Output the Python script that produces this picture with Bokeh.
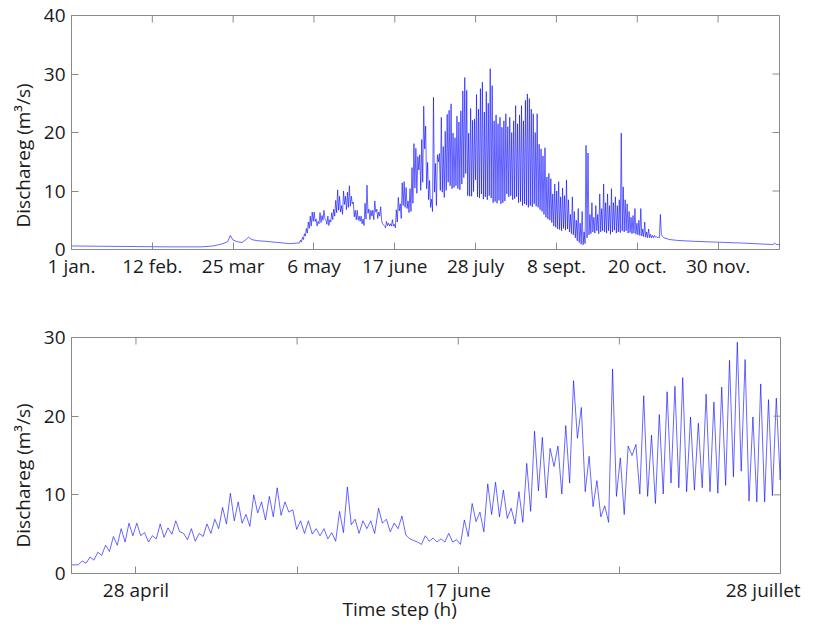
import numpy as np
from bokeh.plotting import figure
from bokeh.layouts import column
from bokeh.models import FixedTicker, Range1d, Title
from bokeh.embed import file_html
from bokeh.resources import INLINE

# ---------------- data (hours since 1 January, discharge in m3/s) ----------------
# calm winter / early spring period
head_hours = [0, 400, 800, 1200, 1600, 1750, 1850, 1930, 1965, 2000, 2060, 2110,
              2160, 2190, 2230, 2300, 2400, 2550, 2700, 2790]
head_vals = [0.6, 0.55, 0.5, 0.45, 0.45, 0.6, 0.9, 1.3, 2.4, 1.6, 1.3, 1.2,
             1.7, 2.1, 1.7, 1.5, 1.4, 1.2, 1.0, 1.1]

# melt season: daily peak and trough (day 0 = 27 april)
daily_peak = [
    1.1, 1.6, 2.1, 2.7, 3.6, 4.7, 5.7, 6.4, 6.4, 5.2,
    4.8, 6.3, 5.8, 6.7, 5.1, 5.7, 5.1, 6.3, 6.9, 8.4,
    10.2, 9.1, 7.5, 10.0, 9.1, 9.8, 10.9, 9.1, 8.1, 6.7,
    6.7, 5.7, 5.7, 5.2, 7.9, 11.0, 6.9, 6.7, 6.7, 8.3,
    6.9, 6.4, 7.3, 4.4, 4.0, 4.8, 4.5, 4.4, 5.1, 4.3,
    6.8, 8.9, 7.8, 11.4, 11.6, 10.6, 8.3, 10.4, 14.0, 18.1,
    17.3, 15.9, 16.2, 18.8, 24.5, 21.1, 14.9, 11.8, 8.6, 26.0,
    14.7, 16.2, 16.4, 22.6, 17.6, 20.2, 23.1, 23.8, 24.9, 19.9,
    19.1, 22.8, 21.8, 23.7, 27.1, 29.4, 27.2, 19.9, 24.1, 22.1,
    22.3, 26.5, 24.0, 27.5, 28.6, 23.5, 27.0, 25.0, 30.9, 28.0,
    22.0, 23.0, 21.5, 22.6, 20.9, 22.0, 23.2, 21.0, 22.6, 20.0,
    22.0, 24.6, 21.5, 23.0, 24.6, 22.0, 25.5, 26.6, 25.8, 24.0,
    23.2, 20.0, 23.2, 18.0, 17.2, 16.0, 17.4, 12.4, 13.0, 12.1,
    9.5, 11.2, 10.0, 11.6, 9.0, 10.5, 9.2, 11.9, 8.5, 6.0,
    9.0, 6.5, 5.0, 7.0, 4.5, 6.5, 3.0, 17.8, 16.5, 6.0,
    8.0, 5.5, 7.5, 6.0, 9.5, 7.0, 11.2, 8.0, 9.5, 7.5,
    10.4, 8.0, 9.0, 7.5, 8.5, 19.9, 10.7, 8.5, 7.8, 6.5,
    5.5, 5.8, 7.0, 4.5, 5.0, 7.0, 3.5, 4.7, 3.0, 3.5,
    2.6, 2.4, 2.4, 2.2, 2.1, 6.0,
]
daily_trough = [
    1.1, 1.3, 1.7, 2.3, 2.8, 3.6, 4.0, 4.8, 4.8, 4.0,
    4.4, 4.6, 5.0, 5.3, 4.3, 4.1, 4.7, 5.1, 5.7, 6.3,
    6.7, 6.4, 6.0, 7.7, 6.8, 7.2, 7.4, 7.8, 5.6, 5.1,
    5.0, 4.8, 4.4, 4.1, 5.2, 6.2, 5.1, 5.7, 5.1, 6.4,
    5.3, 5.7, 4.9, 4.2, 3.7, 4.1, 4.0, 4.0, 4.0, 3.7,
    4.7, 6.6, 5.3, 7.5, 7.2, 7.0, 6.3, 6.5, 7.9, 10.5,
    9.6, 13.6, 10.1, 11.5, 17.2, 10.4, 8.5, 7.2, 6.5, 9.8,
    7.5, 15.0, 10.1, 9.8, 8.9, 10.1, 11.5, 10.9, 10.4, 10.6,
    10.9, 10.4, 10.2, 11.2, 12.3, 13.0, 9.2, 9.1, 9.1, 9.9,
    11.9, 9.0, 8.8, 9.5, 8.6, 9.0, 8.5, 9.2, 8.8, 8.0,
    8.2, 7.9, 8.4, 7.8, 8.0, 8.3, 9.5, 9.0, 9.2, 8.5,
    8.7, 9.0, 8.0, 8.2, 7.5, 7.8, 7.6, 7.2, 7.5, 7.3,
    7.8, 7.4, 7.2, 6.8, 6.5, 6.0, 5.5, 5.2, 5.0, 4.6,
    4.0, 3.8, 3.5, 3.4, 3.2, 3.6, 3.3, 3.5, 3.0, 2.7,
    2.5, 2.0, 1.5, 1.2, 0.9, 0.8, 1.0, 2.0, 2.5, 2.7,
    3.0, 2.8, 3.2, 2.7, 3.0, 3.2, 3.0, 2.8, 3.2, 2.6,
    3.0, 3.3, 2.8, 3.0, 2.9, 3.2, 3.0, 3.2, 2.8, 2.9,
    2.7, 2.8, 2.6, 2.5, 2.4, 2.3, 2.2, 2.1, 2.0, 2.0,
    2.0, 2.0, 2.1, 2.0, 2.0, 2.5,
]

# recession after the melt season
tail_hours = [7330, 7400, 7500, 7700, 8000, 8300, 8600, 8680, 8700, 8720, 8760]
tail_vals = [2.0, 1.7, 1.55, 1.4, 1.25, 1.1, 0.9, 0.85, 1.1, 0.85, 0.85]

# ticks and tick labels
top_ticks = [0, 1000, 2000, 3000, 4000, 5000, 6000, 7000, 8000]
top_tick_labels = ["1 jan.", "12 feb.", "25 mar", "6 may", "17 june",
                   "28 july", "8 sept.", "20 oct.", "30 nov."]
top_yticks = [0, 10, 20, 30, 40]
bot_ticks = [3000, 4000, 5000]
bot_minor = [3500, 4500]
bot_tick_labels = ["28 april", "17 june", "28 juillet\u00a0\u00a0"]
bot_yticks = [0, 10, 20, 30]

# ---------------- build the hourly trace ----------------
DAY0 = 2809.0     # hour of first daily peak
PERIOD = 24.2     # hours between daily peaks
kk = np.arange(len(daily_peak))
peak_t = DAY0 + PERIOD * kk
trough_t = peak_t + PERIOD / 2
mid_t = np.empty(2 * len(kk))
mid_v = np.empty(2 * len(kk))
mid_t[0::2] = peak_t
mid_t[1::2] = trough_t
mid_v[0::2] = daily_peak
mid_v[1::2] = daily_trough
hours = np.concatenate([head_hours, mid_t, tail_hours])
flow = np.concatenate([head_vals, mid_v, tail_vals])

FONT = "Open Sans"
GRAY = "#8a8a8a"
TXT = "#1a1a1a"
LINE = "#0000ff"
TICK = 7


def style(p, xticks, xminor, xlabels, yticks, ylabel_offset):
    xr, yr = p.x_range, p.y_range
    p.xaxis.ticker = FixedTicker(ticks=xticks, minor_ticks=xminor)
    p.xaxis.major_label_overrides = {t: l for t, l in zip(xticks, xlabels)}
    p.yaxis.ticker = FixedTicker(ticks=yticks)
    for ax in (p.xaxis[0], p.yaxis[0]):
        ax.axis_line_color = GRAY
        ax.major_tick_line_color = GRAY
        ax.major_tick_in = TICK
        ax.major_tick_out = 0
        ax.minor_tick_line_color = GRAY
        ax.minor_tick_in = TICK
        ax.minor_tick_out = 0
        ax.major_label_text_font = FONT
        ax.major_label_text_font_size = "19px"
        ax.major_label_text_color = TXT
    p.yaxis.minor_tick_line_color = None
    p.xaxis.major_label_standoff = 3
    p.yaxis.major_label_standoff = 6
    # inward ticks on the top and right edges of the box
    allx = sorted(list(xticks) + list(xminor))
    p.ray(x=allx, y=[yr.end] * len(allx), length=TICK, length_units="screen",
          angle=-np.pi / 2, line_color=GRAY, line_width=1)
    p.ray(x=[xr.end] * len(yticks), y=yticks, length=TICK, length_units="screen",
          angle=np.pi, line_color=GRAY, line_width=1)
    p.xgrid.visible = False
    p.ygrid.visible = False
    p.outline_line_color = GRAY
    p.background_fill_color = "white"
    p.border_fill_color = "white"
    p.add_layout(Title(text="Dischareg (m\u00b3/s)", align="left", offset=ylabel_offset,
                       vertical_align="middle", standoff=8,
                       text_font=FONT, text_font_size="19px", text_font_style="normal",
                       text_color=TXT), "left")


# ---------------- top: whole year ----------------
p1 = figure(output_backend="svg", toolbar_location=None,
            frame_width=708, frame_height=234,
            min_border_left=71, min_border_right=30, min_border_top=15, min_border_bottom=40,
            x_range=Range1d(0, 8760), y_range=Range1d(0, 40))
p1.line(hours, flow, line_color=LINE, line_width=0.6)
style(p1, top_ticks, [], top_tick_labels, top_yticks, 22)

# ---------------- bottom: zoom on the melt onset ----------------
p2 = figure(output_backend="svg", toolbar_location=None,
            frame_width=709, frame_height=236,
            min_border_left=71, min_border_right=30, min_border_top=48, min_border_bottom=55,
            x_range=Range1d(2800, 5000), y_range=Range1d(0, 30))
p2.line(hours, flow, line_color=LINE, line_width=0.6)
style(p2, bot_ticks, bot_minor, bot_tick_labels, bot_yticks, 26)
p2.add_layout(Title(text="Time step (h)", align="left", offset=271,
                    vertical_align="top", standoff=-20,
                    text_font=FONT, text_font_size="19px", text_font_style="normal",
                    text_color=TXT), "below")

layout = column(p1, p2)
open("out.html", "w").write(file_html(layout, INLINE))
